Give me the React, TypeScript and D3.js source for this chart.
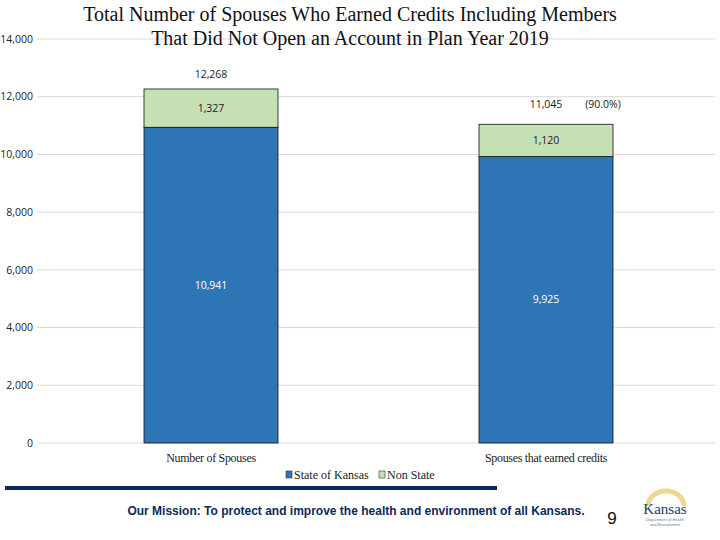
import * as d3 from 'd3';

const categories = ['Number of Spouses', 'Spouses that earned credits'];
const stateOfKansas = [10941, 9925];
const nonState = [1327, 1120];
const totalLabels = ['12,268', '11,045'];
const shareLabels = ['', '(90.0%)'];
const yTicks = [0, 2000, 4000, 6000, 8000, 10000, 12000, 14000];
const seriesNames = ['State of Kansas', 'Non State'];

const COLORS = { state: '#2E75B6', non: '#C5E0B4', grid: '#D9D9D9', navy: '#0B2A5B' };

const W = 720;
const H = 540;

export default function App() {
  const y = d3.scaleLinear().domain([0, 14000]).range([443, 39]);
  const x = d3.scaleBand<string>().domain(categories).range([43.5, 713.5]).paddingInner(0.6).paddingOuter(0.3);
  const fmt = d3.format(',');
  const bw = x.bandwidth();

  const stacked = categories.map((c, i) => {
    const a = stateOfKansas[i];
    const b = nonState[i];
    return { c, a, b, total: a + b };
  });

  return (
    <svg width={W} height={H} style={{ position: 'absolute', left: 0, top: 0, background: '#fff' }}>
      {/* gridlines */}
      {yTicks.map(t => (
        <g key={t}>
          <line x1={37} x2={715} y1={y(t)} y2={y(t)} stroke={COLORS.grid} strokeWidth={1} />
          <text x={33} y={y(t)} dy="0.35em" textAnchor="end" fontFamily="Open Sans, sans-serif" fontSize={10.5} fill="#222">
            {fmt(t)}
          </text>
        </g>
      ))}

      {/* bars */}
      {stacked.map((d, i) => {
        const x0 = x(d.c)!;
        const cx = x0 + bw / 2;
        return (
          <g key={d.c}>
            <rect x={x0} y={y(d.a)} width={bw} height={y(0) - y(d.a)} fill={COLORS.state} stroke="#111" strokeWidth={0.8} />
            <rect x={x0} y={y(d.total)} width={bw} height={y(d.a) - y(d.total)} fill={COLORS.non} stroke="#111" strokeWidth={0.8} />
            <text x={cx} y={(y(d.a) + y(0)) / 2} dy="0.35em" textAnchor="middle" fontFamily="Open Sans, sans-serif" fontSize={10.5} fill="#fff">
              {fmt(d.a)}
            </text>
            <text x={cx} y={(y(d.total) + y(d.a)) / 2} dy="0.35em" textAnchor="middle" fontFamily="Open Sans, sans-serif" fontSize={10.5} fill="#222">
              {fmt(d.b)}
            </text>
            <text x={cx} y={y(d.total) - (i === 0 ? 15 : 20)} dy="0.35em" textAnchor="middle" fontFamily="Open Sans, sans-serif" fontSize={10.5} fill="#222">
              {totalLabels[i]}
            </text>
            {shareLabels[i] && (
              <text x={cx + 57} y={y(d.total) - 20} dy="0.35em" textAnchor="middle" fontFamily="Open Sans, sans-serif" fontSize={10.5} fill="#222">
                {shareLabels[i]}
              </text>
            )}
            <text x={cx} y={458} dy="0.35em" textAnchor="middle" fontFamily="Liberation Serif, serif" fontSize={12} fill="#222" letterSpacing={-0.3}>
              {d.c}
            </text>
          </g>
        );
      })}

      {/* title */}
      <text x={350} y={21} textAnchor="middle" fontFamily="Liberation Serif, serif" fontSize={20} fill="#111">
        <tspan x={350} y={21}>Total Number of  Spouses Who Earned Credits Including Members</tspan>
        <tspan x={350} y={45}>That Did Not Open an Account in Plan Year 2019</tspan>
      </text>

      {/* legend */}
      <g fontFamily="Liberation Serif, serif" fontSize={12} fill="#222">
        <rect x={286} y={471} width={6} height={7} fill={COLORS.state} stroke="#333" strokeWidth={0.6} />
        <text x={294} y={475} dy="0.35em">{seriesNames[0]}</text>
        <rect x={379} y={471} width={6} height={7} fill={COLORS.non} stroke="#333" strokeWidth={0.6} />
        <text x={387} y={475} dy="0.35em">{seriesNames[1]}</text>
      </g>

      {/* footer */}
      <rect x={5} y={486} width={492} height={4} fill={COLORS.navy} />
      <text x={356} y={511} dy="0.35em" textAnchor="middle" fontFamily="Liberation Sans, Arial, sans-serif" fontWeight="bold" fontSize={12} fill={COLORS.navy}>
        Our Mission: To protect and improve the health and environment of all Kansans.
      </text>
      <text x={612} y={518} dy="0.35em" textAnchor="middle" fontFamily="Liberation Sans, Arial, sans-serif" fontSize={17} fill="#111">
        9
      </text>
      <g>
        <path d="M648,506 A18,15 0 0 1 684,506" fill="none" stroke="#E8C46A" strokeWidth={5} opacity={0.7} />
        <text x={665} y={509} dy="0.35em" textAnchor="middle" fontFamily="Liberation Serif, serif" fontSize={15} fill="#1F3A6B">Kansas</text>
        <text x={665} y={520} dy="0.35em" textAnchor="middle" fontFamily="Liberation Sans, sans-serif" fontSize={4} fill="#6b7a99">Department of Health</text>
        <text x={665} y={525} dy="0.35em" textAnchor="middle" fontFamily="Liberation Sans, sans-serif" fontSize={4} fill="#6b7a99">and Environment</text>
      </g>
    </svg>
  );
}
